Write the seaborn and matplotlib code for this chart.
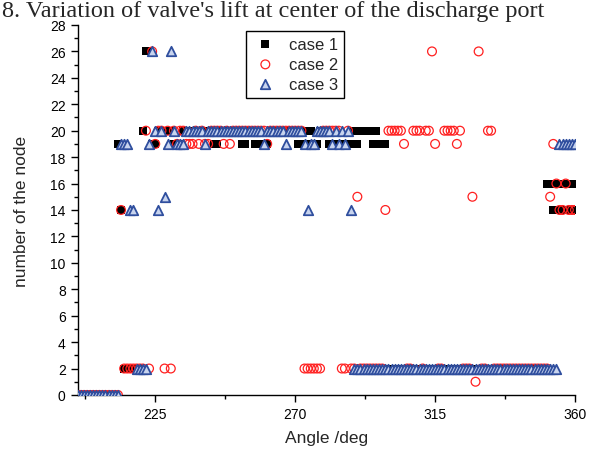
import matplotlib
matplotlib.use("Agg")
import matplotlib.pyplot as plt
from matplotlib.ticker import FixedLocator, MultipleLocator
import seaborn as sns
import pandas as pd

sns.set_theme(style="white")
plt.rcParams['font.family'] = ['Liberation Sans', 'DejaVu Sans']

# sampling grid of crank angle (deg)
angle = list(range(200, 361))

case1 = [0, 0, 0, 0, 0, 0, 0, 0, 0, 0,
         0, 0, 0, 19, 14, 2, 2, 2, 2, 2,
         2, 20, 26, 26, 19, 19, 20, 20, 20, 20,
         20, 19, 19, 19, 20, 20, 20, 20, 20, 20,
         20, 20, 20, 20, 19, 19, 20, 20, 20, 20,
         20, 20, 20, 19, 19, 20, 20, 19, 19, 19,
         19, 19, 20, 20, 20, 20, 20, 20, 20, 20,
         20, 19, 19, 20, 19, 20, 19, 19, 20, 20,
         20, 19, 19, 19, 19, 19, 19, 19, 19, 20,
         19, 20, 20, 20, 20, 19, 20, 19, 19, 19,
         2, 2, 2, 2, 2, 2, 2, 2, 2, 2,
         2, 2, 2, 2, 2, 2, 2, 2, 2, 2,
         2, 2, 2, 2, 2, 2, 2, 2, 2, 2,
         2, 2, 2, 2, 2, 2, 2, 2, 2, 2,
         2, 2, 2, 2, 2, 2, 2, 2, 2, 2,
         2, 16, 16, 14, 16, 14, 16, 14, 16, 14,
         16]

case2 = [0, 0, 0, 0, 0, 0, 0, 0, 0, 0,
         0, 0, 0, 0, 14, 2, 2, 2, 2, 2,
         2, 2, 20, 2, 26, 19, 20, 20, 2, 20,
         2, 20, 19, 20, 20, 19, 19, 19, 20, 19,
         20, 19, 19, 20, 20, 20, 20, 19, 20, 19,
         20, 20, 20, 20, 20, 20, 20, 20, 20, 20,
         20, 19, 20, 20, 20, 20, 20, 20, 20, 20,
         20, 20, 20, 2, 2, 2, 2, 2, 2, 20,
         20, 20, 20, 20, 20, 2, 2, 20, 2, 2,
         15, 2, 2, 2, 2, 2, 2, 2, 2, 14,
         20, 20, 20, 20, 20, 19, 2, 2, 20, 20,
         20, 2, 20, 20, 26, 19, 2, 2, 20, 20,
         20, 20, 19, 20, 2, 2, 2, 15, 1, 26,
         2, 2, 20, 20, 2, 2, 2, 2, 2, 2,
         2, 2, 2, 2, 2, 2, 2, 2, 2, 2,
         2, 2, 15, 19, 16, 14, 14, 16, 14, 14,
         14]

case3 = [0, 0, 0, 0, 0, 0, 0, 0, 0, 0,
         0, 0, 0, 0, 19, 19, 19, 14, 14, 2,
         2, 2, 2, 19, 26, 20, 14, 20, 15, 19,
         26, 20, 19, 19, 19, 20, 20, 20, 20, 20,
         20, 19, 20, 20, 20, 20, 20, 20, 20, 20,
         20, 20, 20, 20, 20, 20, 20, 20, 20, 20,
         19, 20, 20, 20, 20, 20, 20, 19, 20, 20,
         20, 20, 20, 19, 14, 19, 19, 20, 20, 20,
         20, 20, 19, 20, 19, 20, 19, 20, 14, 2,
         2, 2, 2, 2, 2, 2, 2, 2, 2, 2,
         2, 2, 2, 2, 2, 2, 2, 2, 2, 2,
         2, 2, 2, 2, 2, 2, 2, 2, 2, 2,
         2, 2, 2, 2, 2, 2, 2, 2, 2, 2,
         2, 2, 2, 2, 2, 2, 2, 2, 2, 2,
         2, 2, 2, 2, 2, 2, 2, 2, 2, 2,
         2, 2, 2, 2, 2, 19, 19, 19, 19, 19,
         19]

labels = ["case 1", "case 2", "case 3"]
x_ticks = [225, 270, 315, 360]

df = pd.concat([
    pd.DataFrame({"angle": angle, "node": case1, "case": labels[0]}),
    pd.DataFrame({"angle": angle, "node": case2, "case": labels[1]}),
    pd.DataFrame({"angle": angle, "node": case3, "case": labels[2]}),
])

fig = plt.figure(figsize=(5.93, 4.52), dpi=100)
ax = fig.add_axes([0.1307, 0.124, 0.8390, 0.8185])

sns.scatterplot(data=df[df["case"] == labels[0]], x="angle", y="node",
                marker="s", s=34, color="black", edgecolor="black",
                linewidth=0, label=labels[0], ax=ax, zorder=3)
sns.scatterplot(data=df[df["case"] == labels[1]], x="angle", y="node",
                marker="o", s=40, facecolor="none", edgecolor="#FF2020",
                linewidth=0.9, label=labels[1], ax=ax, zorder=4)
sns.scatterplot(data=df[df["case"] == labels[2]], x="angle", y="node",
                marker="^", s=46, color="#C8D4EE", edgecolor="#2F4E9E",
                linewidth=1.3, label=labels[2], ax=ax, zorder=5)

ax.set_xlim(200, 360)
ax.set_ylim(0, 28)
ax.xaxis.set_major_locator(FixedLocator(x_ticks))
ax.xaxis.set_minor_locator(FixedLocator([202.5, 247.5, 292.5, 337.5]))
ax.yaxis.set_major_locator(MultipleLocator(2))
ax.yaxis.set_minor_locator(MultipleLocator(1))

for s in ["top", "right"]:
    ax.spines[s].set_visible(False)
for s in ["left", "bottom"]:
    ax.spines[s].set_color("black")
    ax.spines[s].set_linewidth(1.0)

ax.tick_params(axis="both", which="major", direction="out", length=5,
               width=1, colors="black", labelsize=10, bottom=True, left=True)
ax.tick_params(axis="both", which="minor", direction="out", length=3,
               width=1, colors="black", bottom=True, left=True)

ax.set_xlabel("Angle /deg", fontsize=12.5, labelpad=7)
ax.set_ylabel("number of the node", fontsize=12.5, labelpad=15)

leg = ax.legend(loc="upper left", bbox_to_anchor=(0.339, 0.984),
                fontsize=12, frameon=True, fancybox=False, framealpha=1,
                borderpad=0.35, labelspacing=0.3, handletextpad=0.6,
                borderaxespad=0, handlelength=1.6)
leg.get_frame().set_edgecolor("black")
leg.get_frame().set_linewidth(1.0)

fig.text(0.003, 1 - 17 / 452, "8. Variation of valve's lift at center of the discharge port",
         family=["Liberation Serif", "DejaVu Serif"], fontsize=17.5,
         ha="left", va="baseline")

fig.savefig("out.png", dpi=100)
